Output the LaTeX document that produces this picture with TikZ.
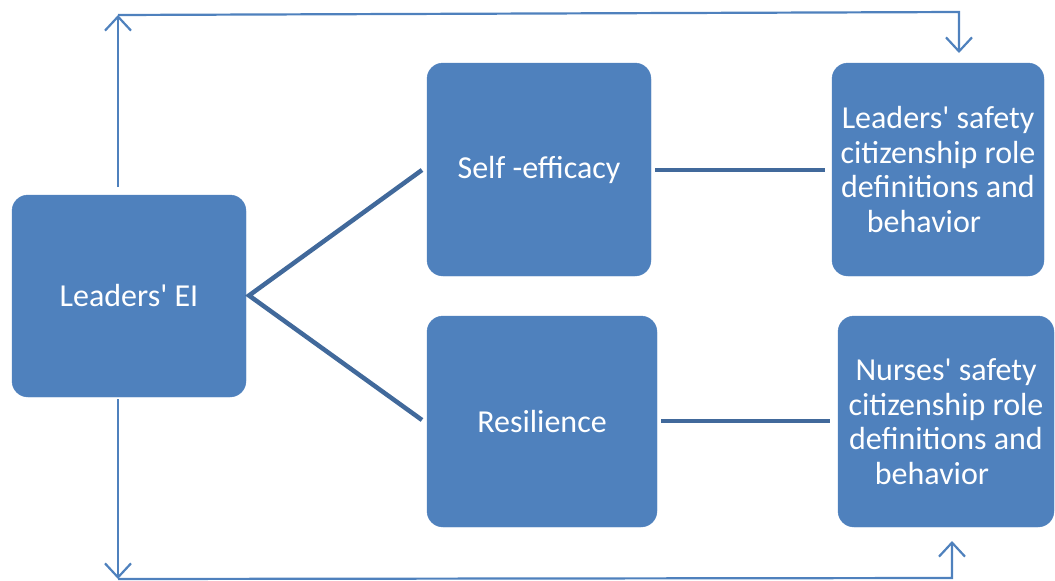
\documentclass[tikz,border=0pt]{standalone}
\usepackage{fontspec}
\setmainfont{Carlito}
\usetikzlibrary{arrows.meta}
\definecolor{boxblue}{HTML}{4F81BD}
\definecolor{linkdark}{HTML}{41699B}
\newcommand{\apos}{\textquotesingle}
\begin{document}
\begin{tikzpicture}[x=1pt,y=-1pt,
  block/.style={draw=boxblue,fill=boxblue,rounded corners=16pt,inner sep=0pt,
    text=white,align=center,font=\fontsize{32}{34.5}\selectfont},
  link/.style={draw=linkdark,line width=4.5pt},
  feedback/.style={draw=boxblue,line width=2.2pt,
    -{Straight Barb[length=14pt,width=26pt,line width=2.2pt]}}]
\useasboundingbox (0,0) rectangle (1055,581);

% boxes
\node[block,minimum width=234pt,minimum height=202pt] (ei) at (129,296) {Leaders\apos{} EI};
\node[block,minimum width=224pt,minimum height=213pt] (se) at (539,169.5) {Self -efficacy};
\node[block,minimum width=230pt,minimum height=211pt] (re) at (542,421.5) {Resilience};
\node[block,minimum width=212pt,minimum height=213pt] (ls) at (938,169.5)
  {Leaders\apos{} safety\\citizenship role\\definitions and\\behavior\hspace*{28pt}};
\node[block,minimum width=216pt,minimum height=211pt] (ns) at (946,421.5)
  {Nurses\apos{} safety\\citizenship role\\definitions and\\behavior\hspace*{28pt}};

% links between the boxes
\coordinate (apex) at (249,295.5);
\coordinate (seL) at (422,170);
\coordinate (reL) at (422,420);
\draw[link] (seL) -- (apex) -- (reL);
\coordinate (seR) at (655,170);
\coordinate (lsL) at (825,170);
\draw[link] (seR) -- (lsL);
\coordinate (reR) at (661,421);
\coordinate (nsL) at (830,421);
\draw[link] (reR) -- (nsL);

% feedback paths above and below
\coordinate (t0) at (118,187);
\coordinate (t1) at (118,15);
\coordinate (t2) at (959,12);
\coordinate (t3) at (959,53);
\draw[feedback] (t0) -- (t1);
\draw[feedback] (t1) -- (t2) -- (t3);
\coordinate (b0) at (118,399);
\coordinate (b1) at (118,579);
\coordinate (b2) at (952,578);
\coordinate (b3) at (952,541);
\draw[feedback] (b0) -- (b1);
\draw[feedback] (b1) -- (b2) -- (b3);
\end{tikzpicture}
\end{document}
